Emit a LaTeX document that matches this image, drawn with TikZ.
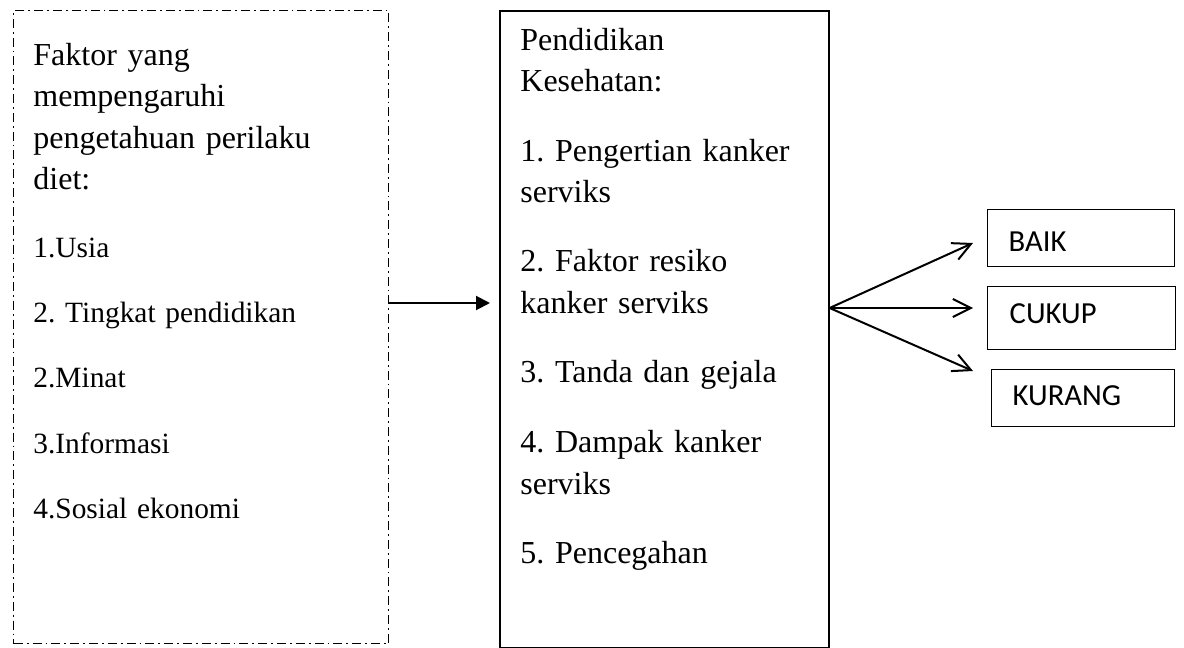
\documentclass[tikz,border=0pt]{standalone}
\usepackage{fontspec}
\setmainfont{Liberation Serif}
\newfontfamily\calibri{Carlito}
\usetikzlibrary{arrows.meta, positioning}
\frenchspacing

\begin{document}
\begin{tikzpicture}[
        x=0.5pt, y=-0.5pt,
        factorbox/.style={rectangle, draw, line width=0.7pt, dash pattern=on 4.5pt off 2pt on 0.9pt off 2pt, anchor=north west, minimum width=187.5pt, minimum height=316.5pt},
        edubox/.style={rectangle, draw, line width=0.8pt, anchor=north west, minimum width=164.5pt, minimum height=318.5pt},
        result/.style={rectangle, draw, line width=0.7pt, anchor=north west, inner xsep=10.5pt, inner ysep=0pt, align=left, font=\calibri\fontsize{15.3}{18}\selectfont},
        bigtext/.style={anchor=base west, inner sep=0pt, align=left, font=\fontsize{16}{20.75}\selectfont},
        smalltext/.style={anchor=base west, inner sep=0pt, align=left, font=\fontsize{14.7}{32.7}\selectfont},
        arrow/.style={-{Triangle[length=7pt, width=7pt]}, line width=1pt},
        fanarrow/.style={-{Straight Barb[length=9pt, width=9pt]}, line width=1pt}
    ]
        \useasboundingbox (0,0) rectangle (1184,648);

        \node[factorbox] (leftbox) at (13,10) {};
        \node[edubox] (edu) at (499,10) {};
        \node[result, text width=72.5pt, text height=21pt, text depth=7.5pt] (baik) at (987,209) {BAIK};
        \node[result, text width=72pt, inner xsep=11pt, text height=18.5pt, text depth=13pt] (cukup) at (987,286) {CUKUP};
        \node[result, text width=70.5pt, text height=18pt, text depth=10.5pt] (kurang) at (991,369) {KURANG};

        \node[bigtext, text width=170pt] (faktor) at (33,65) {Faktor yang\\mempengaruhi\\pengetahuan perilaku\\diet:};
        \node[smalltext, text width=170pt] (list) at (33,257) {1.Usia\\2. Tingkat pendidikan\\2.Minat\\3.Informasi\\4.Sosial ekonomi};
        \node[bigtext, text width=150pt] (materi) at (520,50) {Pendidikan\\Kesehatan:\\[14pt]
            1. Pengertian kanker\\serviks\\[14pt]
            2. Faktor resiko\\kanker serviks\\[14pt]
            3. Tanda dan gejala\\[14pt]
            4. Dampak kanker\\serviks\\[14pt]
            5. Pencegahan};

        \coordinate (fan) at (edu.east |- 0,308);
        \coordinate (tipbaik) at (973,243);
        \coordinate (tipcukup) at (973,308);
        \coordinate (tipkurang) at (973,371);

        \draw[arrow, shorten >=4.5pt] (leftbox.east |- 0,303) -- (edu.west |- 0,303);
        \draw[fanarrow] (fan) -- (tipbaik);
        \draw[fanarrow] (fan) -- (tipcukup);
        \draw[fanarrow] (fan) -- (tipkurang);
    \end{tikzpicture}
\end{document}
